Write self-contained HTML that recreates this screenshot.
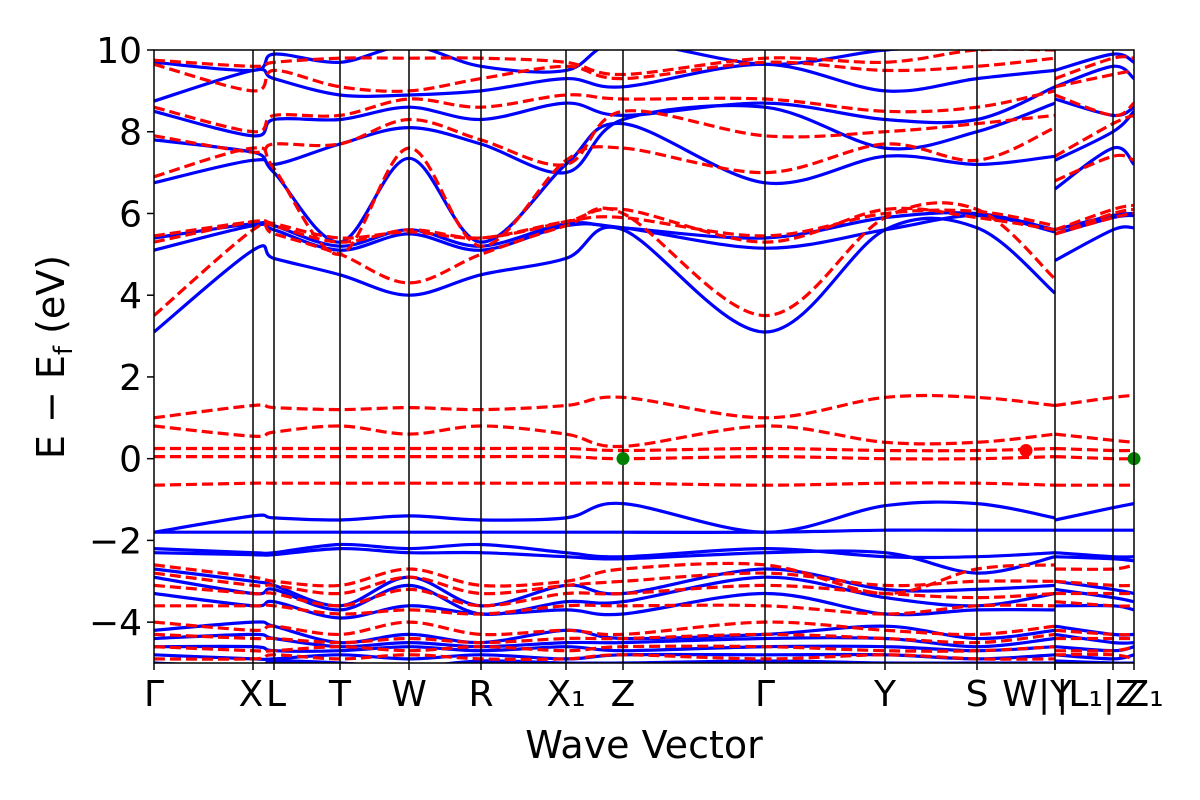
<!DOCTYPE html>
<html><head><meta charset="utf-8"><style>
html,body{margin:0;padding:0;background:#fff;width:1200px;height:800px;overflow:hidden}
svg text{font-family:"DejaVu Sans","Liberation Sans",sans-serif;fill:#000}
</style></head><body>
<svg id="chart" width="1200" height="800" viewBox="0 0 1200 800" xmlns="http://www.w3.org/2000/svg">
<defs><clipPath id="pa"><rect x="154" y="50" width="980" height="613"/></clipPath></defs>
<g id="bands" clip-path="url(#pa)"></g>
<g id="axes"></g>
<text x="644" y="758" font-size="38" text-anchor="middle">Wave Vector</text>
<text transform="translate(64,357) rotate(-90)" font-size="38" text-anchor="middle">E − E<tspan font-size="26" dy="8">f</tspan><tspan dy="-8"> (eV)</tspan></text>
</svg>
<script>
const kNodes=[0,99,120,186,255,327,412,469,611,731,823,901,901,959,980];
const kLabels=["Γ","X","L","T","W","R","X₁","Z","Γ","Y","S","W","|Y","|L₁|Z","Z₁"];
const kLabelOffsets=[0,-2,2,0,0,0,0,0,0,0,0,-35,0,-15,10];
const yTicks=[10,8,6,4,2,0,-2,-4];
const blueBands=[
[3.1,5.1,4.9,4.5,4.0,4.5,4.9,5.6,3.1,5.6,5.65,4.05,4.85,5.6,5.65],
[5.1,5.7,5.6,5.1,5.5,5.1,5.7,5.65,5.15,5.6,5.95,5.55,5.5,5.9,5.95],
[5.4,5.75,5.7,5.2,5.6,5.2,5.75,5.65,5.4,5.9,6.0,5.6,5.6,5.95,6.0],
[6.75,7.3,7.0,5.3,7.35,5.3,7.2,8.2,6.75,7.4,7.2,7.4,6.6,7.6,7.2],
[7.8,7.5,7.2,7.7,8.1,7.7,7.0,8.3,8.6,7.6,8.0,8.7,7.3,8.0,8.5],
[8.5,7.9,8.3,8.3,8.6,8.3,8.7,8.4,8.7,8.3,8.3,9.1,8.8,8.4,8.6],
[8.75,9.5,9.3,8.9,8.9,9.0,9.3,9.1,9.65,9.0,9.3,9.5,9.1,9.6,9.3],
[9.7,9.5,9.9,9.7,10.1,9.6,9.5,10.2,9.65,10.0,10.1,10.2,9.5,9.9,9.7],
[-1.8,-1.4,-1.45,-1.5,-1.4,-1.5,-1.45,-1.1,-1.8,-1.15,-1.1,-1.45,-1.5,-1.2,-1.1],
[-1.8,-1.8,-1.8,-1.8,-1.8,-1.8,-1.8,-1.8,-1.8,-1.75,-1.75,-1.75,-1.75,-1.75,-1.75],
[-2.2,-2.3,-2.3,-2.1,-2.2,-2.1,-2.3,-2.4,-2.2,-2.4,-2.4,-2.3,-2.3,-2.4,-2.4],
[-2.3,-2.35,-2.35,-2.2,-2.3,-2.3,-2.4,-2.45,-2.3,-2.3,-2.8,-2.4,-2.4,-2.45,-2.5],
[-2.7,-3.0,-3.1,-3.6,-2.9,-3.6,-3.1,-3.3,-2.7,-3.2,-3.2,-3.1,-3.0,-3.2,-3.3],
[-2.9,-3.3,-3.2,-3.7,-3.1,-3.8,-3.5,-3.5,-2.9,-3.4,-3.6,-3.3,-3.2,-3.4,-3.5],
[-3.3,-3.6,-3.5,-3.9,-3.6,-3.8,-3.7,-3.8,-3.3,-3.8,-3.7,-3.7,-3.6,-3.6,-3.7],
[-4.2,-4.0,-4.1,-4.5,-4.3,-4.5,-4.2,-4.4,-4.3,-4.1,-4.4,-4.2,-4.1,-4.3,-4.3],
[-4.4,-4.3,-4.4,-4.6,-4.5,-4.6,-4.5,-4.5,-4.4,-4.4,-4.6,-4.4,-4.3,-4.5,-4.5],
[-4.6,-4.6,-4.7,-4.7,-4.6,-4.7,-4.6,-4.7,-4.6,-4.6,-4.7,-4.6,-4.6,-4.7,-4.6],
[-4.8,-4.9,-4.9,-4.8,-4.9,-4.8,-4.9,-4.8,-4.8,-4.8,-4.9,-4.8,-4.8,-4.9,-4.8],
[-5.0,-5.1,-4.95,-5.0,-5.1,-4.95,-5.0,-5.0,-4.95,-5.0,-5.0,-5.0,-4.95,-5.0,-5.0]
];
const redBands=[
[3.5,5.6,5.5,5.0,4.3,5.0,5.7,6.0,3.5,5.9,6.1,4.4,5.5,6.0,6.1],
[5.3,5.8,5.7,5.3,5.6,5.4,5.8,6.1,5.3,6.1,5.9,5.6,5.6,6.1,6.2],
[5.45,5.8,5.75,5.4,5.55,5.4,5.8,5.9,5.45,6.0,6.05,5.7,5.5,5.9,6.0],
[6.9,7.6,7.1,5.0,7.6,5.2,7.3,7.6,7.0,7.7,7.3,8.1,6.8,7.4,7.3],
[7.9,7.5,7.7,7.7,8.3,7.8,7.2,8.5,7.9,8.0,8.2,8.4,7.4,8.2,8.4],
[8.6,8.0,8.4,8.4,8.8,8.6,8.9,8.8,8.8,8.5,8.6,9.0,8.9,8.4,8.7],
[9.65,9.0,9.5,9.1,9.0,9.3,9.6,9.3,9.7,9.5,9.6,9.8,9.1,9.4,9.5],
[9.75,9.6,9.7,9.8,9.8,9.8,9.7,9.4,9.8,9.7,10.0,10.0,9.3,9.8,9.8],
[1.0,1.3,1.25,1.2,1.25,1.2,1.3,1.5,1.0,1.5,1.5,1.3,1.3,1.5,1.55],
[0.8,0.55,0.65,0.8,0.6,0.8,0.6,0.3,0.8,0.4,0.4,0.6,0.6,0.45,0.4],
[0.25,0.25,0.25,0.25,0.25,0.25,0.25,0.2,0.25,0.2,0.2,0.25,0.25,0.2,0.2],
[0.05,0.05,0.05,0.05,0.05,0.05,0.05,0.0,0.05,0.0,0.0,0.05,0.05,0.0,0.0],
[-0.65,-0.6,-0.6,-0.6,-0.6,-0.6,-0.6,-0.6,-0.65,-0.6,-0.6,-0.65,-0.65,-0.65,-0.65],
[-2.6,-2.9,-3.0,-3.1,-2.7,-3.1,-3.0,-2.7,-2.6,-3.3,-2.7,-2.6,-2.7,-2.7,-2.6],
[-2.8,-3.1,-3.1,-3.3,-2.9,-3.3,-3.1,-3.0,-2.8,-3.1,-3.0,-3.0,-3.0,-3.1,-3.1],
[-3.1,-3.3,-3.3,-3.6,-3.2,-3.6,-3.3,-3.3,-3.1,-3.3,-3.4,-3.3,-3.3,-3.3,-3.3],
[-3.6,-3.6,-3.6,-3.8,-3.7,-3.8,-3.6,-3.6,-3.6,-3.8,-3.6,-3.6,-3.5,-3.6,-3.6],
[-4.0,-4.2,-4.1,-4.3,-4.0,-4.3,-4.2,-4.3,-4.0,-4.2,-4.3,-4.1,-4.2,-4.3,-4.3],
[-4.3,-4.4,-4.4,-4.5,-4.4,-4.5,-4.4,-4.4,-4.3,-4.4,-4.5,-4.3,-4.4,-4.4,-4.4],
[-4.6,-4.7,-4.7,-4.6,-4.7,-4.6,-4.7,-4.6,-4.6,-4.7,-4.7,-4.6,-4.7,-4.7,-4.6],
[-4.9,-4.9,-4.8,-4.9,-4.8,-4.9,-4.9,-4.8,-4.9,-4.8,-4.9,-4.9,-4.8,-4.8,-4.9]
];
const greenPointsK=[469,980];
const greenPointsE=[0,0];
const redPointsK=[872];
const redPointsE=[0.2];

const NS="http://www.w3.org/2000/svg";
const X0=154,X1=1134,Y0=50,Y1=663,KMAX=980,EMIN=-5,EMAX=10;
function xs(k){return X0+(k/KMAX)*(X1-X0);}
function ys(e){return Y1-(e-EMIN)/(EMAX-EMIN)*(Y1-Y0);}
function mk(tag,attrs,parent){const el=document.createElementNS(NS,tag);for(const a in attrs)el.setAttribute(a,attrs[a]);parent.appendChild(el);return el;}
function segPath(pts){
  let d="M"+pts[0][0].toFixed(1)+","+pts[0][1].toFixed(1);
  for(let i=0;i<pts.length-1;i++){
    const p0=pts[Math.max(0,i-1)],p1=pts[i],p2=pts[i+1],p3=pts[Math.min(pts.length-1,i+2)];
    const c1x=p1[0]+(p2[0]-p0[0])/6,c1y=p1[1]+(p2[1]-p0[1])/6;
    const c2x=p2[0]-(p3[0]-p1[0])/6,c2y=p2[1]-(p3[1]-p1[1])/6;
    d+=" C"+c1x.toFixed(1)+","+c1y.toFixed(1)+" "+c2x.toFixed(1)+","+c2y.toFixed(1)+" "+p2[0].toFixed(1)+","+p2[1].toFixed(1);
  }
  return d;
}
function bandD(vals){
  const a=[],b=[];
  for(let i=0;i<=11;i++)a.push([xs(kNodes[i]),ys(vals[i])]);
  for(let i=12;i<kNodes.length;i++)b.push([xs(kNodes[i]),ys(vals[i])]);
  return segPath(a)+" "+segPath(b);
}
const gB=document.getElementById("bands");
blueBands.forEach((v,i)=>{
  const p=mk("path",{d:bandD(v),fill:"none",stroke:"#0000ff","stroke-width":3.2,"stroke-linejoin":"round"},gB);
  
  
});
redBands.forEach((v,i)=>{
  const p=mk("path",{d:bandD(v),fill:"none",stroke:"#ff0000","stroke-width":3.2,"stroke-dasharray":"11,5"},gB);
  
  
});
const gA=document.getElementById("axes");
kNodes.forEach((k,i)=>{
  if(i===0||i===kNodes.length-1||i===12)return;
  const l=mk("line",{x1:xs(k),x2:xs(k),y1:Y0,y2:Y1,stroke:"#000","stroke-width":1.5},gA);
  
  
});
greenPointsK.forEach((k,i)=>{
  const c=mk("circle",{cx:xs(k),cy:ys(greenPointsE[i]),r:6.5,fill:"#008000"},gA);
  
  
});
redPointsK.forEach((k,i)=>{
  const c=mk("circle",{cx:xs(k),cy:ys(redPointsE[i]),r:6.5,fill:"#ff0000"},gA);
  
  
});
const fr=mk("rect",{x:X0,y:Y0,width:X1-X0,height:Y1-Y0,fill:"none",stroke:"#000","stroke-width":1.5},gA);


yTicks.forEach(t=>{
  const y=ys(t);
  const l=mk("line",{x1:X0-7,x2:X0,y1:y,y2:y,stroke:"#000","stroke-width":1.5},gA);
  
  
  const tx=mk("text",{x:X0-12,y:y+13,"font-size":36,"text-anchor":"end"},gA);
  tx.textContent=t<0?"−"+Math.abs(t):String(t);
  
  
});
kNodes.forEach((k,i)=>{
  const l=mk("line",{x1:xs(k),x2:xs(k),y1:Y1,y2:Y1+7,stroke:"#000","stroke-width":1.5},gA);
  
  
  const tx=mk("text",{x:xs(k)+kLabelOffsets[i],y:Y1+43,"font-size":36,"text-anchor":"middle"},gA);
  tx.textContent=kLabels[i];
  
  
});
</script>
</body></html>
